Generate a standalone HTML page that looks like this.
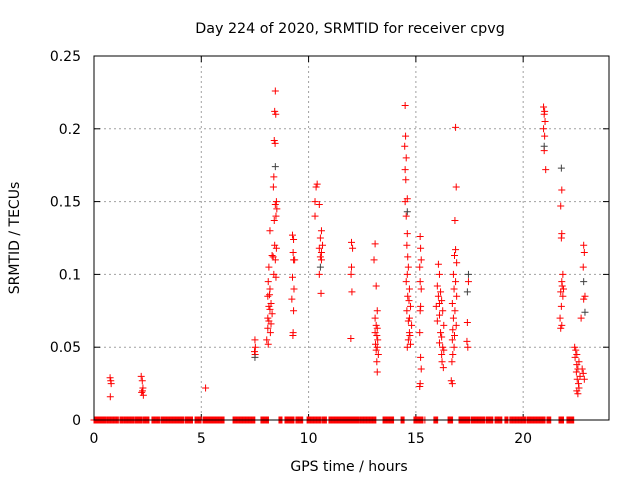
<!DOCTYPE html>
<html><head><meta charset="utf-8"><style>
body{margin:0;background:#fff}
svg{display:block;font-family:"DejaVu Sans","Liberation Sans",sans-serif}
</style></head><body>
<svg id="chart" width="640" height="480">
<rect width="640" height="480" fill="#fff"/>
<text x="350" y="33" font-size="14.3" text-anchor="middle">Day 224 of 2020, SRMTID for receiver cpvg</text>
<g id="grid"></g>
<g id="ticks"></g>
<g id="marks"></g>
<rect x="94" y="56" width="515" height="364" fill="none" stroke="#000" stroke-width="1"/>
<text x="349" y="471" font-size="14" text-anchor="middle">GPS time / hours</text>
<text transform="translate(19,238) rotate(-90)" font-size="14" text-anchor="middle">SRMTID / TECUs</text>
</svg>
<script>
const xTicks=[0,5,10,15,20];
const yTicks=[0,0.05,0.1,0.15,0.2,0.25];
const yTickLabels=["0","0.05","0.1","0.15","0.2","0.25"];
const zeroSegments=[[0,0.56],[0.61,1.16],[1.21,1.35],[1.40,1.86],[1.91,2.24],[2.28,2.56],[2.70,3.08],[3.12,4.19],[4.24,4.61],[4.71,4.99],[5.08,6.06],[6.48,7.50],[7.78,8.15],[8.62,8.76],[8.90,9.32],[9.41,9.74],[9.93,10.58],[10.62,10.86],[10.95,11.93],[11.93,12.35],[12.40,13.14],[13.47,13.98],[14.31,14.45],[14.91,15.33],[15.42,15.42],[15.84,16.03],[16.50,16.73],[17.01,17.52],[17.57,18.22],[18.27,18.59],[18.69,19.01],[19.15,19.29],[19.38,20.13],[20.18,21.02],[21.11,21.30],[21.67,21.90],[22.04,22.37]];
const redT=[0.75,0.78,0.8,0.76,
2.2,2.25,2.28,2.22,2.3,2.26,
5.2,
7.5,7.52,7.48,7.51,
8.45,8.42,8.47,8.4,8.44,8.38,8.36,8.5,8.45,8.52,8.48,8.4,8.2,8.42,8.5,8.3,8.35,8.45,8.15,8.38,8.48,8.12,8.2,8.1,8.25,8.15,8.2,8.3,8.1,8.15,8.25,8.1,8.22,8.05,8.12,8.18,
9.25,9.3,9.28,9.35,9.3,9.25,9.32,9.22,9.3,9.28,9.27,
10.4,10.35,10.3,10.5,10.3,10.6,10.55,10.65,10.5,10.6,10.55,10.6,10.5,10.58,
12.0,12.05,12.0,11.98,12.02,11.97,
13.1,13.05,13.15,13.2,13.1,13.15,13.2,13.1,13.18,13.22,13.12,13.2,13.15,13.25,13.18,13.2,
14.5,14.52,14.48,14.55,14.5,14.53,14.6,14.5,14.55,14.6,14.58,14.62,14.65,14.6,14.55,14.7,14.62,14.68,14.75,14.58,14.7,14.65,14.8,14.7,14.72,14.65,14.75,14.6,
15.2,15.22,15.25,15.18,15.2,15.25,15.22,15.2,15.18,15.22,15.25,15.2,15.18,
16.05,16.1,16.0,16.15,16.05,16.2,16.1,15.95,16.25,16.1,16.0,16.3,16.15,16.2,16.1,16.25,16.3,16.2,16.22,16.28,
16.85,16.88,16.82,16.85,16.8,16.9,16.75,16.85,16.78,16.9,16.7,16.82,16.75,16.88,16.72,16.8,16.7,16.78,16.72,16.68,16.65,16.7,
17.45,17.4,17.38,17.42,
20.95,21.0,20.98,21.02,20.95,21.0,20.98,21.05,
21.8,21.75,21.8,21.78,21.85,21.8,21.82,21.88,21.75,21.85,21.78,21.72,21.8,21.75,
22.4,22.45,22.5,22.42,22.6,22.5,22.55,22.48,22.65,22.52,22.58,22.6,22.5,22.55,22.82,22.85,22.8,22.88,22.82,22.7,22.75,22.8,22.85];
const redV=[0.029,0.027,0.025,0.016,
0.03,0.027,0.022,0.019,0.017,0.02,
0.022,
0.055,0.05,0.047,0.045,
0.226,0.212,0.21,0.192,0.19,0.167,0.16,0.15,0.148,0.145,0.14,0.137,0.13,0.12,0.118,0.113,0.112,0.11,0.105,0.1,0.098,0.095,0.09,0.085,0.08,0.078,0.076,0.073,0.07,0.068,0.066,0.063,0.06,0.055,0.052,0.086,
0.127,0.124,0.115,0.11,0.11,0.098,0.09,0.083,0.075,0.06,0.058,
0.162,0.16,0.15,0.148,0.14,0.13,0.125,0.12,0.118,0.115,0.112,0.11,0.1,0.087,
0.122,0.118,0.105,0.1,0.088,0.056,
0.121,0.11,0.092,0.075,0.07,0.065,0.063,0.06,0.058,0.055,0.052,0.05,0.048,0.045,0.04,0.033,
0.216,0.195,0.188,0.18,0.172,0.165,0.152,0.15,0.14,0.128,0.12,0.112,0.105,0.1,0.095,0.09,0.085,0.082,0.078,0.075,0.07,0.068,0.065,0.06,0.058,0.055,0.052,0.05,
0.126,0.118,0.11,0.105,0.095,0.09,0.078,0.075,0.06,0.043,0.035,0.025,0.023,
0.107,0.1,0.092,0.088,0.085,0.082,0.08,0.078,0.075,0.072,0.068,0.065,0.06,0.057,0.053,0.05,0.048,0.045,0.04,0.036,
0.201,0.16,0.137,0.117,0.113,0.108,0.1,0.095,0.09,0.085,0.08,0.075,0.07,0.065,0.062,0.058,0.055,0.05,0.045,0.04,0.027,0.025,
0.095,0.067,0.054,0.05,
0.215,0.212,0.21,0.205,0.2,0.195,0.185,0.172,
0.158,0.147,0.128,0.125,0.1,0.095,0.092,0.09,0.088,0.085,0.078,0.07,0.065,0.063,
0.05,0.048,0.045,0.043,0.04,0.038,0.035,0.033,0.03,0.028,0.025,0.022,0.02,0.018,0.12,0.115,0.105,0.085,0.083,0.07,0.035,0.032,0.028];
const blackT=[7.5,8.45,14.6,10.55,17.45,17.4,20.98,21.78,22.82,22.88];
const blackV=[0.043,0.174,0.143,0.105,0.1,0.088,0.188,0.173,0.095,0.074];

const NS="http://www.w3.org/2000/svg";
const X0=94,X1=609,Y0=420,Y1=56;
const xs=t=>X0+t/24*(X1-X0);
const ys=v=>Y0-v/0.25*(Y0-Y1);
const grid=document.getElementById('grid'),ticks=document.getElementById('ticks'),marks=document.getElementById('marks');
function mk(tag,at,p){const e=document.createElementNS(NS,tag);for(const k in at)e.setAttribute(k,at[k]);p.appendChild(e);return e;}
xTicks.forEach(t=>{
 const x=xs(t);
 if(t>0){const g=mk('line',{x1:x,x2:x,y1:Y1,y2:Y0,stroke:'#a0a0a0','stroke-dasharray':'2,3'},grid);
 
 }
 const l=mk('text',{x:x,y:443,'font-size':14,'text-anchor':'middle'},ticks);l.textContent=t;
 
 
 mk('line',{x1:x,x2:x,y1:Y0,y2:Y0-6,stroke:'#000'},ticks);
 mk('line',{x1:x,x2:x,y1:Y1,y2:Y1+6,stroke:'#000'},ticks);
});
yTicks.forEach((v,i)=>{
 const y=ys(v);
 if(v>0&&v<0.25){const g=mk('line',{x1:X0,x2:X1,y1:y,y2:y,stroke:'#a0a0a0','stroke-dasharray':'2,3'},grid);
 
 }
 const l=mk('text',{x:81,y:y+5,'font-size':14,'text-anchor':'end'},ticks);l.textContent=yTickLabels[i];
 
 
 mk('line',{x1:X0,x2:X0+6,y1:y,y2:y,stroke:'#000'},ticks);
 mk('line',{x1:X1,x2:X1-6,y1:y,y2:y,stroke:'#000'},ticks);
});
function plus(t,v,c,name){
 const x=xs(t),y=ys(v);
 const p=mk('path',{d:`M${x-3.5},${y}H${x+3.5}M${x},${y-3.5}V${y+3.5}`,stroke:c,'stroke-width':1,fill:'none'},marks);
 
 
}
zeroSegments.forEach(s=>{for(let t=s[0];t<=s[1]+1e-9;t+=0.035)plus(t,0,'#ff0000','zero-point');});
redT.forEach((t,i)=>plus(t,redV[i],'#ff0000','srmtid-point'));
blackT.forEach((t,i)=>plus(t,blackV[i],'#404040','srmtid-point-dark'));
</script>
</body></html>
